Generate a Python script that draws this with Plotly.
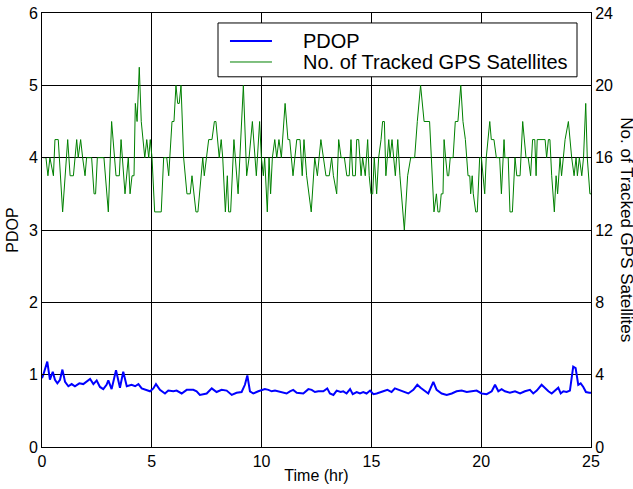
import plotly.graph_objects as go

# Number of tracked GPS satellites (right axis)
sat_time = [0.05, 0.18, 0.27, 0.36, 0.52, 0.59, 0.74, 0.94, 1.17, 1.28, 1.43, 1.58, 1.65, 1.76, 1.85, 1.96,
            2.03, 2.26, 2.37, 2.44, 2.52, 2.82, 3.02, 3.17, 3.37, 3.52, 3.60, 3.78, 3.93, 4.01, 4.10, 4.19,
            4.25, 4.33, 4.43, 4.52, 4.68, 4.77, 4.86, 4.93, 5.01, 5.13, 5.43, 5.54, 5.68, 5.77, 5.92, 6.01,
            6.10, 6.18, 6.25, 6.33, 6.45, 6.60, 6.75, 6.83, 7.01, 7.10, 7.32, 7.39, 7.59, 7.74, 7.85, 7.92,
            8.07, 8.16, 8.23, 8.35, 8.44, 8.50, 8.59, 8.74, 8.93, 9.05, 9.17, 9.32, 9.43, 9.58, 9.76, 9.91,
            9.99, 10.08, 10.14, 10.26, 10.34, 10.41, 10.49, 10.60, 10.69, 10.79, 10.90, 11.07, 11.20, 11.28,
            11.43, 11.60, 11.75, 11.85, 11.93, 12.05, 12.26, 12.42, 12.54, 12.70, 12.81, 12.93, 13.08, 13.19,
            13.27, 13.42, 13.51, 13.62, 13.77, 13.88, 13.99, 14.07, 14.15, 14.27, 14.33, 14.42, 14.53, 14.60,
            14.72, 14.83, 14.90, 14.98, 15.06, 15.13, 15.24, 15.33, 15.44, 15.51, 15.59, 15.66, 15.79, 15.85,
            15.94, 16.00, 16.09, 16.20, 16.30, 16.50, 16.65, 16.79, 16.97, 17.09, 17.24, 17.40, 17.65, 17.73,
            17.85, 17.96, 18.03, 18.11, 18.18, 18.26, 18.31, 18.38, 18.46, 18.52, 18.59, 18.72, 18.82, 18.94,
            19.07, 19.17, 19.28, 19.40, 19.48, 19.52, 19.59, 19.64, 19.75, 19.82, 19.93, 20.01, 20.08, 20.16,
            20.23, 20.39, 20.46, 20.58, 20.69, 20.84, 20.92, 20.99, 21.04, 21.08, 21.23, 21.31, 21.42, 21.54,
            21.62, 21.77, 21.89, 22.04, 22.14, 22.25, 22.34, 22.44, 22.50, 22.55, 22.91, 22.98, 23.06, 23.13,
            23.21, 23.33, 23.41, 23.48, 23.59, 23.66, 23.74, 23.82, 23.97, 24.12, 24.23, 24.32, 24.38, 24.47,
            24.58, 24.66, 24.76, 24.83, 24.95, 25.0]
sat_count = [16, 16, 15, 16, 15, 17, 17, 13, 17, 15, 15, 17, 16, 17, 16, 15,
             16, 16, 14, 14, 16, 16, 13, 18, 15, 15, 17, 14, 16, 14, 15, 15,
             19, 18, 21, 18, 16, 17, 16, 17, 16, 13, 13, 16, 16, 15, 18, 18,
             20, 19, 19, 20, 16, 14, 14, 15, 13, 13, 16, 15, 17, 17, 18, 18,
             16, 17, 16, 13, 15, 13, 13, 17, 14, 17, 20, 15, 16, 18, 15, 18,
             16, 15, 16, 13, 16, 14, 16, 17, 16, 17, 16, 19, 17, 17,
             15, 17, 17, 15, 17, 15, 13, 16, 15, 17, 16, 15, 15, 16,
             15, 14, 17, 16, 16, 15, 15, 17, 15, 15, 17, 17, 15, 16,
             15, 17, 15, 14, 14, 16, 14, 16, 17, 18, 18, 15, 17, 16,
             17, 16, 15, 17, 15, 12, 15, 16, 16, 18, 20, 18, 18, 16,
             13, 14, 13, 13, 14, 14, 17, 16, 15, 15, 16, 16, 18, 18,
             20, 18, 17, 15, 15, 14, 15, 14, 13, 13, 16, 16, 15, 14,
             16, 18, 17, 17, 16, 16, 14, 16, 17, 16, 16, 13, 13, 16,
             15, 15, 18, 16, 16, 15, 17, 17, 15, 17, 17, 16, 17, 17,
             15, 13, 15, 14, 16, 15, 16, 17, 18, 16, 15, 16, 15, 16,
             15, 16, 19, 16, 14, 14]

# PDOP (left axis)
pdop_time = [0.0, 0.06, 0.24, 0.36, 0.49, 0.59, 0.70, 0.82, 0.93, 1.05, 1.20, 1.35, 1.50, 1.70, 1.88,
             2.03, 2.19, 2.34, 2.49, 2.64, 2.79, 2.94, 3.02, 3.17, 3.37, 3.55, 3.70, 3.86, 4.08, 4.24,
             4.39, 4.54, 4.69, 4.92, 5.07, 5.19, 5.37, 5.60, 5.75, 5.98, 6.13, 6.36, 6.59, 6.89, 7.04,
             7.19, 7.50, 7.73, 7.95, 8.18, 8.41, 8.64, 8.86, 9.09, 9.24, 9.35, 9.47, 9.62, 9.85, 10.00,
             10.15, 10.31, 10.46, 10.61, 10.76, 10.91, 11.14, 11.29, 11.44, 11.60, 11.90, 12.13, 12.28,
             12.43, 12.58, 12.81, 12.99, 13.11, 13.27, 13.42, 13.60, 13.72, 13.87, 14.03, 14.15, 14.33,
             14.48, 14.63, 14.78, 14.94, 15.09, 15.24, 15.39, 15.54, 15.73, 15.92, 16.07, 16.27, 16.45,
             16.68, 16.91, 17.09, 17.24, 17.44, 17.59, 17.82, 17.97, 18.20, 18.43, 18.66, 18.88, 19.11,
             19.34, 19.57, 19.79, 20.02, 20.25, 20.48, 20.63, 20.78, 20.93, 21.08, 21.31, 21.54, 21.77,
             21.99, 22.22, 22.37, 22.53, 22.75, 22.91, 23.06, 23.21, 23.36, 23.51, 23.62, 23.74, 23.89,
             24.04, 24.19, 24.30, 24.42, 24.53, 24.65, 24.77, 24.92, 25.0]
pdop_val = [0.95, 1.00, 1.18, 0.93, 1.04, 0.93, 0.88, 0.93, 1.07, 0.90, 0.84, 0.87, 0.84, 0.88, 0.87,
            0.90, 0.94, 0.87, 0.92, 0.83, 0.80, 0.86, 0.92, 0.80, 1.06, 0.82, 1.04, 0.84, 0.86, 0.84,
            0.87, 0.81, 0.79, 0.77, 0.81, 0.87, 0.79, 0.74, 0.78, 0.77, 0.78, 0.74, 0.79, 0.79, 0.77,
            0.72, 0.74, 0.81, 0.76, 0.79, 0.78, 0.72, 0.75, 0.76, 0.86, 0.99, 0.77, 0.74, 0.77, 0.79,
            0.80, 0.79, 0.77, 0.78, 0.77, 0.75, 0.74, 0.77, 0.79, 0.75, 0.74, 0.80, 0.79,
            0.76, 0.77, 0.77, 0.81, 0.74, 0.72, 0.78, 0.76, 0.77, 0.74, 0.80, 0.73, 0.76,
            0.74, 0.76, 0.74, 0.78, 0.73, 0.74, 0.76, 0.77, 0.79, 0.76, 0.81, 0.79, 0.77,
            0.74, 0.79, 0.86, 0.82, 0.77, 0.74, 0.90, 0.79, 0.74, 0.72, 0.74, 0.77, 0.78,
            0.76, 0.77, 0.78, 0.74, 0.73, 0.77, 0.86, 0.77, 0.80, 0.77, 0.75, 0.77, 0.74,
            0.77, 0.79, 0.74, 0.78, 0.86, 0.81, 0.77, 0.74, 0.78, 0.82, 0.74, 0.77, 0.76,
            0.78, 1.11, 1.09, 0.86, 0.88, 0.83, 0.76, 0.75, 0.75]

x_ticks = [0, 5, 10, 15, 20, 25]
left_ticks = [0, 1, 2, 3, 4, 5, 6]
right_ticks = [0, 4, 8, 12, 16, 20, 24]

series_names = ["PDOP", "No. of Tracked GPS Satellites"]
series_colors = ["#0000ff", "#008000"]
series_widths = [2, 1]

FONT = "Liberation Sans, Arial, sans-serif"

fig = go.Figure()
fig.add_trace(go.Scatter(x=pdop_time, y=pdop_val, mode="lines", name=series_names[0],
                         line=dict(color=series_colors[0], width=series_widths[0]), yaxis="y"))
fig.add_trace(go.Scatter(x=sat_time, y=sat_count, mode="lines", name=series_names[1],
                         line=dict(color=series_colors[1], width=series_widths[1]), yaxis="y2"))

axis_common = dict(showline=True, linecolor="black", linewidth=1, ticks="inside", ticklen=5,
                   tickcolor="black", zeroline=False, automargin=False,
                   tickfont=dict(size=16, color="black", family=FONT))

# Legend box drawn in paper coordinates (MATLAB-style legend)
leg_x0, leg_x1, leg_y0, leg_y1 = 0.3206, 0.9745, 0.853, 0.977
row_y = [0.9355, 0.8871]
line_x0, line_x1, text_x = 0.3424, 0.4189, 0.4718

shapes = [dict(type="rect", xref="paper", yref="paper", x0=leg_x0, x1=leg_x1, y0=leg_y0, y1=leg_y1,
               line=dict(color="black", width=1), fillcolor="white", layer="above")]
annotations = []
for name, col, w, ry in zip(series_names, series_colors, series_widths, row_y):
    shapes.append(dict(type="line", xref="paper", yref="paper", x0=line_x0, x1=line_x1, y0=ry, y1=ry,
                       line=dict(color=col, width=w), layer="above"))
    annotations.append(dict(text=name, xref="paper", yref="paper", x=text_x, y=ry, xanchor="left",
                            yanchor="middle", showarrow=False,
                            font=dict(size=20, family=FONT, color="black")))
annotations.append(dict(text="No. of Tracked GPS Satellites", textangle=90, xref="paper", yref="paper",
                        x=1.065, y=0.5, xanchor="center", yanchor="middle", showarrow=False,
                        font=dict(size=17, family=FONT, color="black")))

fig.update_layout(
    width=633, height=489,
    margin=dict(l=42, r=42, t=13, b=42),
    paper_bgcolor="white", plot_bgcolor="white",
    font=dict(family=FONT, color="black"),
    showlegend=False,
    xaxis=dict(range=[0, 25], tickvals=x_ticks, mirror=True, showgrid=True, gridcolor="black",
               gridwidth=1, title=dict(text="Time (hr)", font=dict(size=16), standoff=0),
               **axis_common),
    yaxis=dict(range=[0, 6], tickvals=left_ticks, showgrid=True, gridcolor="black", gridwidth=1,
               title=dict(text="PDOP", font=dict(size=16), standoff=6), **axis_common),
    yaxis2=dict(range=[0, 24], tickvals=right_ticks, overlaying="y", side="right", showgrid=False,
                **axis_common),
    shapes=shapes,
    annotations=annotations,
)

fig.write_html("out.html")
